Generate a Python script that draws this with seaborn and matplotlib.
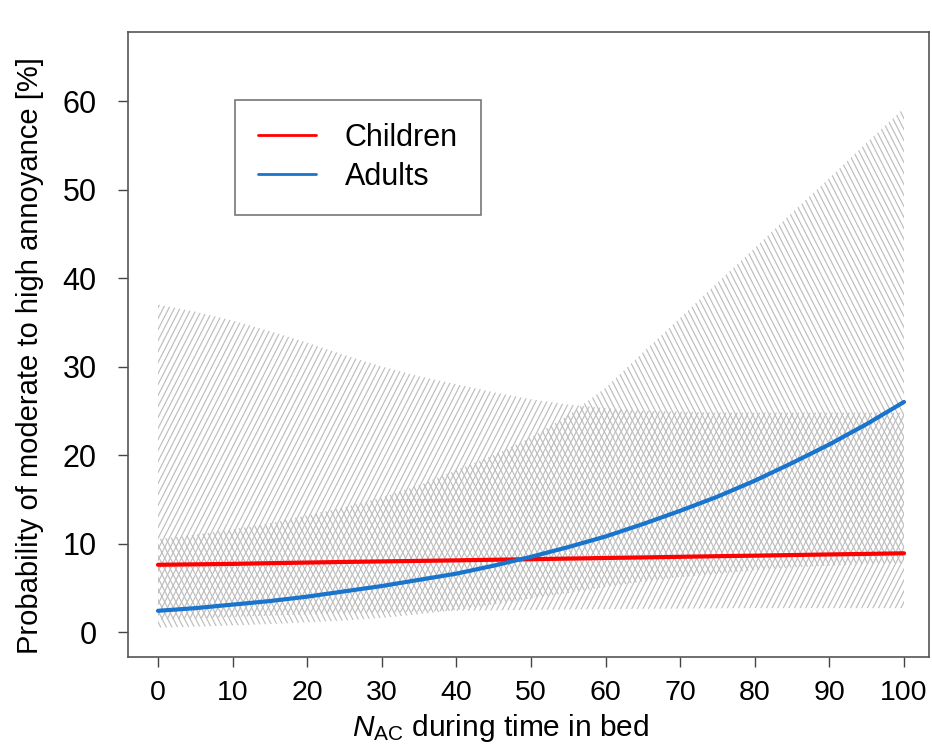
import numpy as np
import pandas as pd
import matplotlib
matplotlib.use("Agg")
import matplotlib.pyplot as plt
import seaborn as sns
from matplotlib.collections import LineCollection
from matplotlib.transforms import IdentityTransform
from matplotlib.lines import Line2D

# Number of aircraft noise events during time in bed
nac = [0, 5, 10, 15, 20, 25, 30, 35, 40, 45, 50,
       55, 60, 65, 70, 75, 80, 85, 90, 95, 100]

# Children: fitted probability and 95% confidence band [%]
children_prob = [7.6, 7.65, 7.7, 7.78, 7.85, 7.92, 7.98, 8.04, 8.1, 8.17, 8.23,
                 8.3, 8.37, 8.43, 8.5, 8.57, 8.63, 8.7, 8.77, 8.83, 8.9]
children_lo = [1.4, 1.55, 1.7, 1.85, 2.0, 2.1, 2.2, 2.3, 2.4, 2.45, 2.5,
               2.55, 2.6, 2.62, 2.65, 2.68, 2.7, 2.7, 2.7, 2.7, 2.7]
children_hi = [37.0, 36.2, 35.2, 34.0, 32.7, 31.3, 30.0, 28.9, 28.0, 27.1, 26.3,
               25.7, 25.3, 25.0, 24.9, 24.8, 24.8, 24.8, 24.8, 24.8, 24.8]

# Adults: fitted probability and 95% confidence band [%]
adults_prob = [2.4, 2.7, 3.1, 3.5, 4.0, 4.6, 5.2, 5.9, 6.6, 7.5, 8.5,
               9.6, 10.8, 12.2, 13.7, 15.3, 17.1, 19.1, 21.2, 23.5, 26.0]
adults_lo = [0.5, 0.6, 0.75, 0.9, 1.1, 1.3, 1.6, 2.0, 2.5, 3.1, 3.8,
             4.4, 5.1, 5.7, 6.2, 6.6, 7.0, 7.3, 7.5, 7.7, 7.8]
adults_hi = [10.5, 11.0, 11.6, 12.3, 13.2, 14.1, 15.2, 16.6, 18.3, 20.0, 22.0,
             24.5, 27.6, 31.6, 35.5, 39.5, 43.4, 47.4, 51.3, 55.3, 59.2]

groups = ["Children", "Adults"]
colors = {"Children": "#FF0000", "Adults": "#1874CD"}
x_ticks = [0, 10, 20, 30, 40, 50, 60, 70, 80, 90, 100]
y_ticks = [0, 10, 20, 30, 40, 50, 60]

df = pd.DataFrame({
    "nac": nac + nac,
    "prob": children_prob + adults_prob,
    "group": ["Children"] * len(nac) + ["Adults"] * len(nac),
})

sns.set_theme(style="white")
plt.rcParams["font.family"] = ["Liberation Sans", "DejaVu Sans"]
plt.rcParams["text.color"] = "black"
plt.rcParams["axes.labelcolor"] = "black"
plt.rcParams["mathtext.fontset"] = "custom"
plt.rcParams["mathtext.rm"] = "Liberation Sans"
plt.rcParams["mathtext.it"] = "Liberation Sans:italic"

W, H = 932, 756
fig = plt.figure(figsize=(W / 100, H / 100), dpi=100)
ax = fig.add_axes([128 / W, 1 - 657 / H, (929 - 128) / W, (657 - 32) / H])
ax.set_xlim(-4.02, 103.35)
ax.set_ylim(-2.82, 67.8)


def hatch_band(lo, hi, angle_deg, spacing_px=5.6, color="#bdbdbd", lw=0.85):
    """Fill a confidence band with slanted hatch lines clipped to its outline."""
    band = ax.fill_between(nac, lo, hi, facecolor="none", edgecolor="none")
    bb = ax.bbox
    dx = (bb.y1 - bb.y0) / np.tan(np.radians(angle_deg))
    starts = np.arange(bb.x0 - abs(dx) - 20, bb.x1 + abs(dx) + 20, spacing_px)
    segs = [[(s, bb.y0), (s + dx, bb.y1)] for s in starts]
    lc = LineCollection(segs, colors=color, linewidths=lw,
                        transform=IdentityTransform(), zorder=1)
    ax.add_collection(lc, autolim=False)
    lc.set_clip_path(band.get_paths()[0], ax.transData)


hatch_band(children_lo, children_hi, 63)
hatch_band(adults_lo, adults_hi, 117)

sns.lineplot(data=df, x="nac", y="prob", hue="group", hue_order=groups,
             palette=colors, linewidth=3.0, errorbar=None, legend=False,
             ax=ax, zorder=3)

ax.set_xticks(x_ticks)
ax.set_yticks(y_ticks)
ax.set_xticklabels([str(v) for v in x_ticks], fontsize=20.5)
ax.set_yticklabels([str(v) for v in y_ticks], fontsize=22)
ax.tick_params(axis="both", direction="out", length=7.5, width=1.0,
               color="#444444", labelcolor="black", bottom=True, left=True)
ax.tick_params(axis="y", pad=15)
ax.tick_params(axis="x", pad=9)

for sp in ax.spines.values():
    sp.set_color("#555555")
    sp.set_linewidth(1.2)

ax.set_xlabel(r"$\mathit{N}_{\mathrm{AC}}$ during time in bed", fontsize=21.5)
ax.xaxis.label.set_ha("center")
ax.xaxis.label.set_va("center")
ax.xaxis.set_label_coords((501 - 128) / 801, (657 - 728) / 625)

ax.set_ylabel("Probability of moderate to high annoyance [%]", fontsize=21)
ax.yaxis.label.set_ha("center")
ax.yaxis.label.set_va("center")
ax.yaxis.set_label_coords((30 - 128) / 801, (657 - 356) / 625)

handles = [Line2D([], [], color=colors[g], linewidth=2.0) for g in groups]
leg = ax.legend(handles, groups, loc="upper left",
                bbox_to_anchor=((235 - 128) / 801, (657 - 100) / 625),
                borderaxespad=0, frameon=True, fancybox=False,
                edgecolor="#555555", fontsize=22, handlelength=1.9,
                handletextpad=0.95, borderpad=0.75, labelspacing=0.3)
leg.get_frame().set_linewidth(1.2)

fig.savefig("out.png", dpi=100)
